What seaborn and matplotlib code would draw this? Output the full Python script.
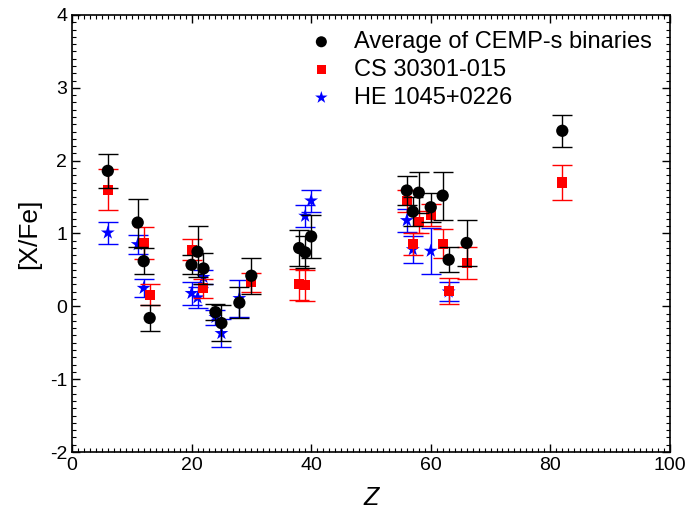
import matplotlib
matplotlib.use('Agg')
import matplotlib.pyplot as plt
from matplotlib.ticker import MultipleLocator
import seaborn as sns
import pandas as pd

# Average of CEMP-s binaries
avg_z = [6, 11, 12, 13, 20, 21, 22, 24, 25, 28, 30, 38, 39, 40, 56, 57, 58, 60, 62, 63, 66, 82]
avg_xfe = [1.86, 1.15, 0.62, -0.16, 0.57, 0.75, 0.52, -0.08, -0.23, 0.05, 0.42, 0.80, 0.74, 0.96,
           1.59, 1.30, 1.56, 1.36, 1.52, 0.64, 0.87, 2.41]
avg_err = [0.23, 0.33, 0.18, 0.18, 0.13, 0.35, 0.21, 0.11, 0.25, 0.21, 0.25, 0.25, 0.22, 0.30,
           0.20, 0.20, 0.28, 0.20, 0.33, 0.17, 0.32, 0.22]

# CS 30301-015
cs_z = [6, 12, 13, 20, 22, 30, 38, 39, 56, 57, 58, 60, 62, 63, 66, 82]
cs_xfe = [1.60, 0.87, 0.16, 0.78, 0.25, 0.33, 0.30, 0.29, 1.45, 0.86, 1.16, 1.25, 0.86, 0.21, 0.59, 1.70]
cs_err = [0.28, 0.22, 0.14, 0.15, 0.13, 0.13, 0.21, 0.21, 0.15, 0.15, 0.15, 0.15, 0.20, 0.18, 0.22, 0.24]

# HE 1045+0226
he_z = [6, 11, 12, 20, 21, 22, 24, 25, 28, 39, 40, 56, 57, 60, 63]
he_xfe = [1.01, 0.85, 0.25, 0.18, 0.12, 0.40, -0.15, -0.37, 0.11, 1.24, 1.45, 1.18, 0.78, 0.76, 0.20]
he_err = [0.15, 0.13, 0.12, 0.16, 0.14, 0.10, 0.10, 0.19, 0.25, 0.15, 0.15, 0.16, 0.18, 0.32, 0.13]

sns.set_theme(style='ticks')
plt.rcParams['font.family'] = ['Liberation Sans', 'DejaVu Sans']
plt.rcParams['axes.unicode_minus'] = False
plt.rcParams['text.color'] = 'black'
plt.rcParams['axes.labelcolor'] = 'black'

avg_df = pd.DataFrame({'Z': avg_z, 'XFe': avg_xfe, 'err': avg_err})
cs_df = pd.DataFrame({'Z': cs_z, 'XFe': cs_xfe, 'err': cs_err})
he_df = pd.DataFrame({'Z': he_z, 'XFe': he_xfe, 'err': he_err})

fig = plt.figure(figsize=(6.85, 5.16), dpi=100)
ax = fig.add_axes([0.105, 0.124, 0.873, 0.847])

# error bars first, then the markers (blue at bottom, black on top)
ax.errorbar(he_df['Z'], he_df['XFe'], yerr=he_df['err'], fmt='none', ecolor='blue',
            elinewidth=1, capsize=7, capthick=1, zorder=2)
sns.scatterplot(data=he_df, x='Z', y='XFe', marker='*', s=110, color='blue',
                edgecolor='none', label='HE 1045+0226', ax=ax, zorder=3)
ax.errorbar(cs_df['Z'], cs_df['XFe'], yerr=cs_df['err'], fmt='none', ecolor='red',
            elinewidth=1, capsize=7, capthick=1, zorder=4)
sns.scatterplot(data=cs_df, x='Z', y='XFe', marker='s', s=52, color='red',
                edgecolor='none', label='CS 30301-015', ax=ax, zorder=5)
ax.errorbar(avg_df['Z'], avg_df['XFe'], yerr=avg_df['err'], fmt='none', ecolor='black',
            elinewidth=1, capsize=7, capthick=1, zorder=6)
sns.scatterplot(data=avg_df, x='Z', y='XFe', marker='o', s=78, color='black',
                edgecolor='none', label='Average of CEMP-s binaries', ax=ax, zorder=7)

ax.set_xlim(0, 100)
ax.set_ylim(-2, 4)
ax.xaxis.set_major_locator(MultipleLocator(20))
ax.xaxis.set_minor_locator(MultipleLocator(1))
ax.yaxis.set_major_locator(MultipleLocator(1))
ax.yaxis.set_minor_locator(MultipleLocator(0.1))
ax.tick_params(which='both', direction='in', top=True, right=True, labelsize=14, colors='black')
ax.tick_params(which='major', length=6, width=1)
ax.tick_params(which='minor', length=3, width=0.8)
for sp in ax.spines.values():
    sp.set_linewidth(1.2)
    sp.set_color('black')

ax.set_xlabel('Z', fontsize=18, style='italic', labelpad=9)
ax.set_ylabel('[X/Fe]', fontsize=19, labelpad=6)

handles, labels = ax.get_legend_handles_labels()
order = [2, 1, 0]
ax.legend([handles[i] for i in order], [labels[i] for i in order], loc='upper left',
          bbox_to_anchor=(0.346, 1.012), frameon=False, fontsize=17, handletextpad=0.5,
          handlelength=1.8, labelspacing=0.25, markerscale=0.9)

fig.savefig('out.png', dpi=100)
